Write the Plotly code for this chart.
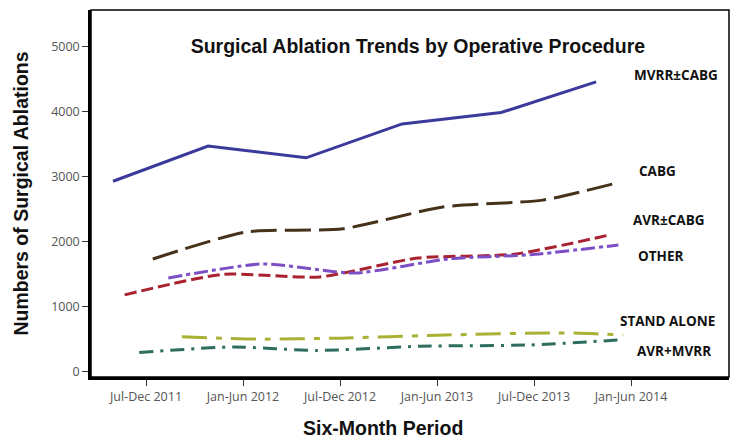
import plotly.graph_objects as go

# six-month periods on the x axis (tick positions are the period index)
periods = ['Jul-Dec 2011', 'Jan-Jun 2012', 'Jul-Dec 2012',
           'Jan-Jun 2013', 'Jul-Dec 2013', 'Jan-Jun 2014']

# each curve was drawn at slightly shifted positions
mvrr_x = [-0.34, 0.64, 1.65, 2.64, 3.66, 4.64]
mvrr_y = [2930, 3470, 3290, 3810, 3985, 4455]

cabg_x = [0.07, 1.03, 2.03, 3.06, 4.09, 4.87]
cabg_y = [1736, 2150, 2200, 2535, 2640, 2910]

avr_cabg_x = [-0.22, 0.79, 1.79, 2.80, 3.80, 4.78]
avr_cabg_y = [1185, 1500, 1460, 1750, 1810, 2105]

other_x = [0.23, 1.21, 2.15, 3.13, 3.96, 4.87]
other_y = [1445, 1660, 1520, 1740, 1800, 1950]

stand_x = [0.37, 1.15, 2.00, 3.00, 4.30, 4.92]
stand_y = [540, 505, 520, 565, 600, 570]

avr_mvrr_x = [-0.07, 0.90, 1.76, 2.82, 3.96, 4.86]
avr_mvrr_y = [300, 385, 330, 395, 415, 490]

series = [
    ('MVRR±CABG', mvrr_x, mvrr_y, '#3a3a9c', 'solid', 'linear', 5.46, 4560),
    ('CABG', cabg_x, cabg_y, '#46321a', '26px,8px', 'spline', 5.27, 3090),
    ('AVR±CABG', avr_cabg_x, avr_cabg_y, '#a8222f', '12px,5px', 'spline', 5.39, 2335),
    ('OTHER', other_x, other_y, '#7d4fc4', '14px,4px,4px,4px', 'spline', 5.30, 1780),
    ('STAND ALONE', stand_x, stand_y, '#a9b034', '25px,9px,6px,9px', 'spline', 5.38, 785),
    ('AVR+MVRR', avr_mvrr_x, avr_mvrr_y, '#2f6e5f', '14px,7px,3px,7px', 'spline', 5.44, 320),
]

fig = go.Figure()
for name, xs, ys, color, dash, shape, lx, ly in series:
    fig.add_trace(go.Scatter(x=xs, y=ys, mode='lines', name=name,
                             line=dict(color=color, width=3, dash=dash,
                                       shape=shape, smoothing=0.6)))
    fig.add_annotation(x=lx, y=ly, text='<b>' + name + '</b>', showarrow=False,
                       font=dict(family='Open Sans', size=13.5, color='#111'))

# x axis title sits left of the plot centre in the original
fig.add_annotation(xref='paper', yref='paper', x=0.458, y=-0.139,
                   text='<b>Six-Month Period</b>', showarrow=False,
                   xanchor='center', yanchor='middle',
                   font=dict(family='Liberation Sans', size=19.5, color='#111'))

# thin frame on top/right, heavier axis lines on left/bottom
fig.add_shape(type='rect', xref='paper', yref='paper', x0=0, y0=0, x1=1, y1=1,
              line=dict(color='black', width=1.5), layer='above')

fig.update_layout(
    width=737, height=443,
    margin=dict(l=91, r=8, t=10, b=66),
    paper_bgcolor='white', plot_bgcolor='white',
    showlegend=False,
    title=dict(text='<b>Surgical Ablation Trends by Operative Procedure</b>',
               x=0.567, y=0.896, xanchor='center', yanchor='middle',
               font=dict(family='Liberation Sans', size=19.5, color='#111')),
)

fig.update_xaxes(range=[-0.567, 6.01], tickvals=list(range(len(periods))),
                 ticktext=periods, ticks='outside', ticklen=6, tickcolor='#333',
                 showgrid=False, zeroline=False,
                 showline=True, linecolor='black', linewidth=2.5,
                 tickfont=dict(family='Open Sans', size=12.5, color='#555'))

fig.update_yaxes(range=[-77, 5560], tickvals=[0, 1000, 2000, 3000, 4000, 5000],
                 ticks='outside', ticklen=6, tickcolor='#333',
                 showgrid=False, zeroline=False,
                 showline=True, linecolor='black', linewidth=2.5,
                 tickfont=dict(family='Open Sans', size=12.5, color='#555'),
                 title=dict(text='<b>Numbers of Surgical Ablations</b>', standoff=18,
                            font=dict(family='Liberation Sans', size=19.5, color='#111')))

# page body has a default margin; remove it so the figure fills the window
fig.write_html('out.html', config={'displayModeBar': False},
               post_script="document.body.style.margin='0';")
